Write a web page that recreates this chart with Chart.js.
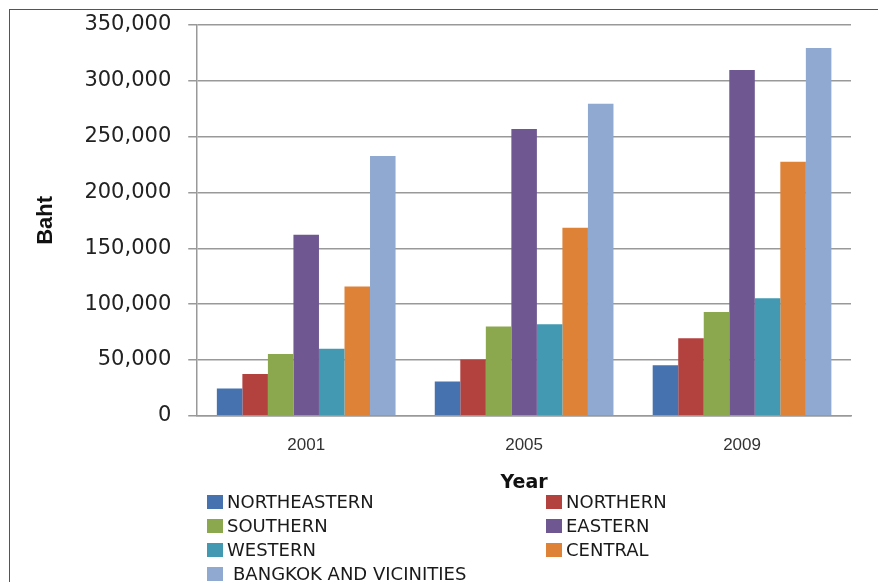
<!DOCTYPE html>
<html>
<head>
<meta charset="utf-8">
<script src="https://cdn.jsdelivr.net/npm/chart.js@4/dist/chart.umd.min.js"></script>
<style>
  html, body { margin: 0; padding: 0; background: #fff; }
  #wrap { width: 878px; height: 582px; position: relative; }
</style>
</head>
<body>
<div id="wrap"><canvas id="chart"></canvas></div>
<script>
// Average household income by region (Baht)
const years = ['2001', '2005', '2009'];
const northeastern = [24500, 30800, 45200];
const northern = [37400, 50500, 69400];
const southern = [55300, 79900, 93000];
const eastern = [162100, 256900, 309600];
const western = [60100, 81900, 105300];
const central = [115800, 168400, 227600];
const bangkok = [232700, 279400, 329300];
const regionNames = ['NORTHEASTERN', 'NORTHERN', 'SOUTHERN', 'EASTERN', 'WESTERN', 'CENTRAL', 'BANGKOK AND VICINITIES'];
const yTicks = [0, 50000, 100000, 150000, 200000, 250000, 300000, 350000];

const colors = ['#4672B0', '#B3423F', '#8CA84E', '#6F5791', '#4399B2', '#DE8238', '#90A9D0'];
const series = [northeastern, northern, southern, eastern, western, central, bangkok];

const datasets = series.map((vals, i) => ({
  label: regionNames[i],
  data: vals,
  backgroundColor: colors[i],
  borderWidth: 0,
  barPercentage: 1.0,
  categoryPercentage: 0.82
}));

// Frame around the whole figure
const framePlugin = {
  id: 'frame',
  beforeDraw(chart) {
    const ctx = chart.ctx;
    ctx.save();
    ctx.fillStyle = '#fff';
    ctx.fillRect(0, 0, chart.width, chart.height);
    ctx.strokeStyle = '#555';
    ctx.lineWidth = 1;
    ctx.strokeRect(9.5, 9.5, chart.width + 20, chart.height + 20);
    ctx.restore();
  }
};

// Two-column legend below the axis title
const gridLegend = {
  id: 'gridLegend',
  afterDraw(chart) {
    const ctx = chart.ctx;
    const ds = chart.data.datasets;
    const cols = [207, 546];
    const rowY = [502, 526, 550, 574];
    ctx.save();
    ctx.font = '18px "DejaVu Sans", sans-serif';
    ctx.textBaseline = 'middle';
    ds.forEach((d, i) => {
      const cx = cols[i % 2];
      const cy = rowY[Math.floor(i / 2)];
      ctx.fillStyle = d.backgroundColor;
      ctx.fillRect(cx, cy - 7, 16, 14);
      ctx.fillStyle = '#1a1a1a';
      const tx = (i === 6) ? cx + 26 : cx + 20;
      ctx.fillText(d.label, tx, cy + 1);
    });
    ctx.restore();
  }
};

new Chart(document.getElementById('chart'), {
  type: 'bar',
  data: { labels: years, datasets },
  plugins: [framePlugin, gridLegend],
  options: {
    responsive: true,
    maintainAspectRatio: false,
    animation: false,
    layout: { padding: { top: 19, right: 27, bottom: 88, left: 10 } },
    plugins: {
      legend: { display: false },
      tooltip: { enabled: false }
    },
    scales: {
      x: {
        grid: { display: false },
        border: { display: true, color: '#999', width: 1.5 },
        ticks: {
          color: '#333',
          padding: 11,
          font: { family: '"Liberation Sans", Arial, sans-serif', size: 17 }
        },
        title: {
          display: true,
          text: 'Year',
          color: '#111',
          padding: { top: 5, bottom: 0 },
          font: { family: '"DejaVu Sans", sans-serif', size: 19, weight: 'bold' }
        }
      },
      y: {
        min: 0,
        max: 350000,
        afterBuildTicks(scale) {
          scale.ticks = yTicks.map(v => ({ value: v }));
        },
        grid: { color: '#999', lineWidth: 1.5, tickLength: 9, drawTicks: true },
        border: { display: true, color: '#999', width: 1.5 },
        ticks: {
          color: '#222',
          padding: 17,
          font: { family: '"DejaVu Sans", sans-serif', size: 21, lineHeight: 0.76 },
          callback: v => v.toLocaleString('en-US')
        },
        title: {
          display: true,
          text: 'Baht',
          color: '#111',
          padding: { top: 23, bottom: 8 },
          font: { family: '"Liberation Sans Narrow", "Liberation Sans", sans-serif', size: 22, weight: 'bold' }
        }
      }
    }
  }
});
</script>
</body>
</html>
